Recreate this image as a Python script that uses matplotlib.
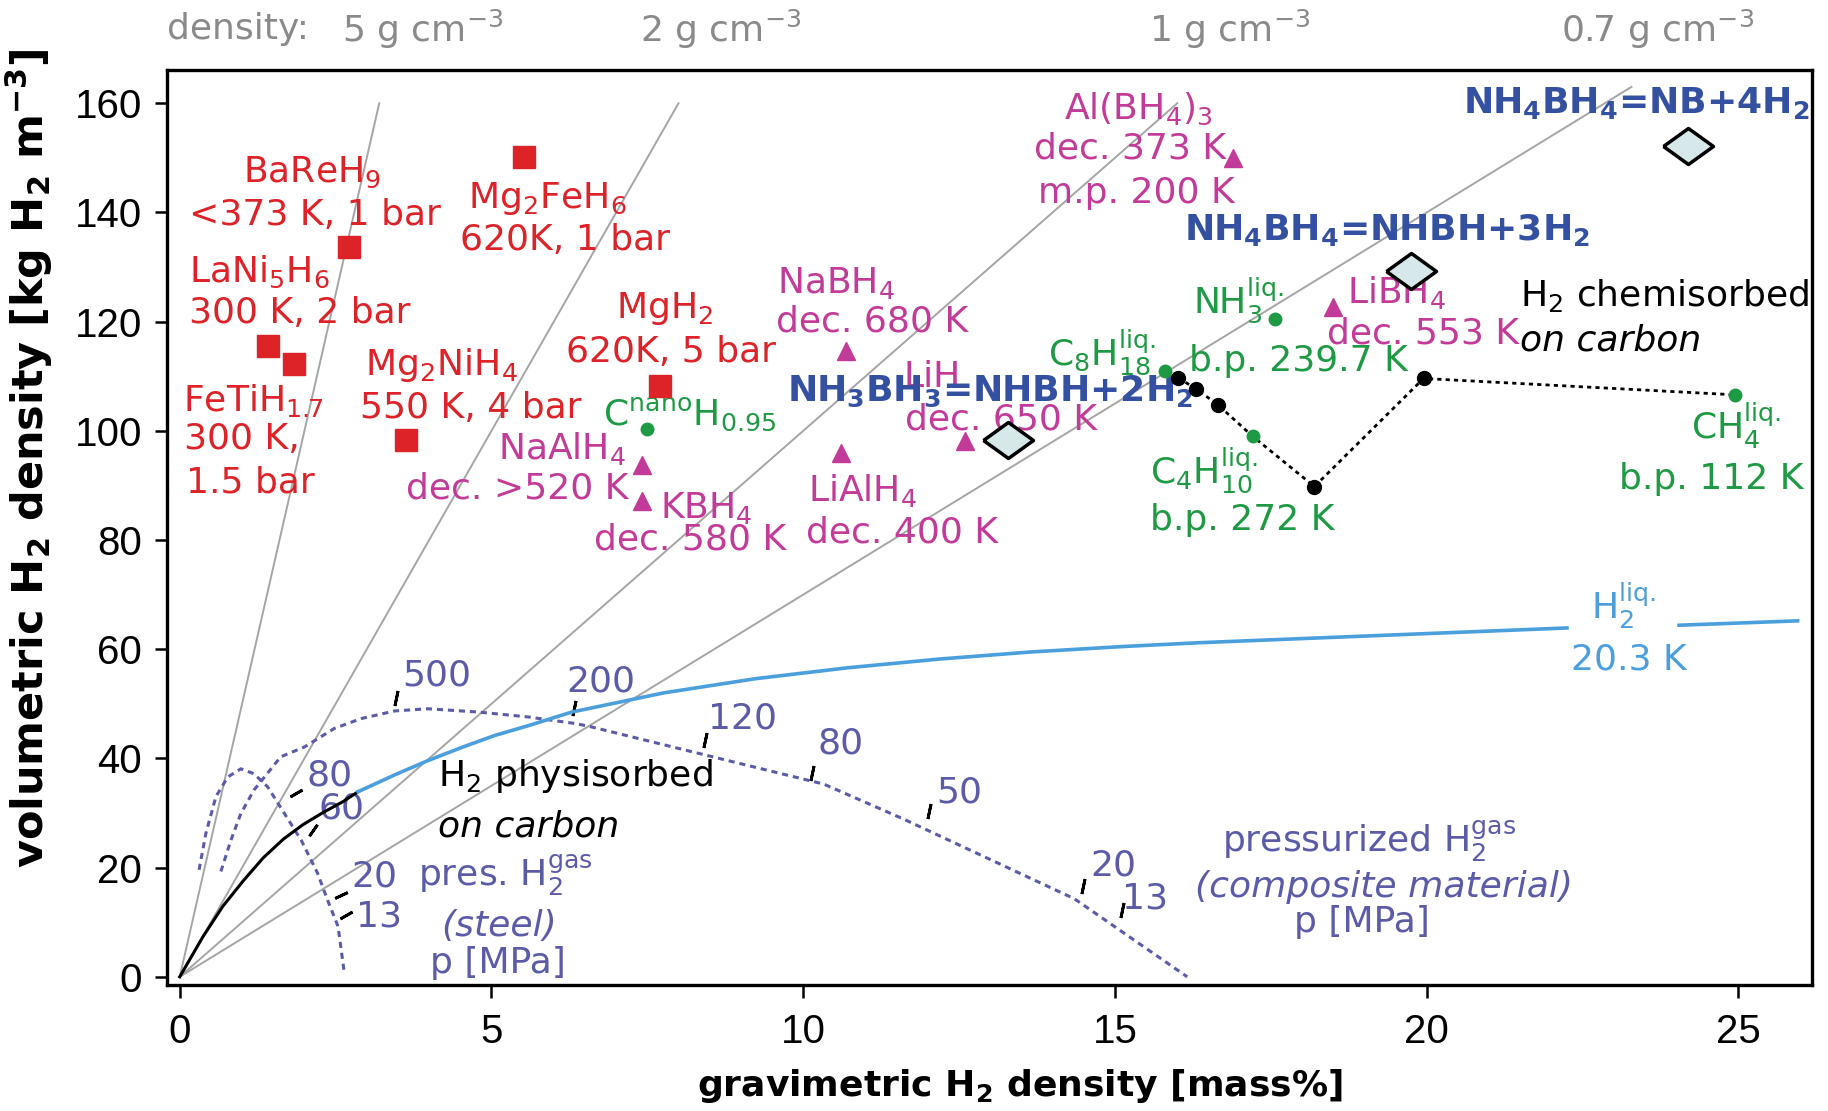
import matplotlib
matplotlib.use("Agg")
import matplotlib.pyplot as plt

plt.rcParams["font.family"] = ["DejaVu Sans"]
plt.rcParams["mathtext.default"] = "regular"

RED = "#dd2228"
MAG = "#c23b98"
GREEN = "#1f9a44"
BLUE = "#3450a0"
PRES = "#5b5ba8"
LIQ = "#4a9fdc"
GRAY = "#a5a5a5"
FS = 26

# density guide lines (g cm^-3) and the volumetric value where each stops
rho = [5, 2, 1, 0.7]
rho_top = [160, 160, 160, 163]
rho_label = ["5 g cm$^{-3}$", "2 g cm$^{-3}$", "1 g cm$^{-3}$", "0.7 g cm$^{-3}$"]
rho_label_x = [3.9, 8.67, 16.84, 23.7]

# metal hydrides: Mg2FeH6, BaReH9, LaNi5H6, FeTiH1.7, Mg2NiH4, MgH2
metal_x = [5.52, 2.71, 1.41, 1.84, 3.63, 7.71]
metal_y = [150.2, 133.7, 115.6, 112.3, 98.3, 108.2]

# complex hydrides: NaBH4, LiAlH4, NaAlH4, KBH4, LiH, Al(BH4)3, LiBH4
complex_x = [10.68, 10.61, 7.41, 7.42, 12.59, 16.9, 18.5]
complex_y = [114.7, 96.0, 93.7, 87.2, 98.1, 150.0, 122.7]

# liquids / nano carbon: C(nano)H0.95, NH3, C8H18, C4H10, CH4
liquid_x = [7.50, 17.57, 15.80, 17.21, 24.95]
liquid_y = [100.3, 120.4, 111.0, 99.0, 106.6]

# H2 chemisorbed on carbon
chem_x = [16.02, 16.30, 16.65, 17.21, 18.2, 19.95, 24.95]
chem_y = [109.7, 107.7, 104.8, 99.0, 89.8, 109.6, 106.6]
chem_dot = [True, True, True, False, True, True, False]

# ammonia borane / ammonium borohydride
ab_x = [13.28, 19.75, 24.2]
ab_y = [98.4, 129.2, 152.1]

# H2 physisorbed on carbon
phys_x = [0.0, 0.37, 0.69, 1.02, 1.34, 1.66, 1.98, 2.3, 2.62, 2.86]
phys_y = [0.0, 7.3, 12.9, 17.6, 21.8, 25.2, 27.9, 30.1, 32.1, 33.9]

# liquid hydrogen (incl. container), gap left for its label
liq_x = [2.86, 3.45, 3.98, 4.52, 5.05, 5.59, 6.29, 7.76, 9.23, 10.71, 12.18, 13.65,
         15.13, 16.36, 22.25]
liq_y = [33.9, 37.0, 39.6, 42.0, 44.2, 46.0, 48.5, 52.0, 54.6, 56.6, 58.2, 59.5,
         60.5, 61.2, 63.9]
liq2_x = [24.05, 25.95]
liq2_y = [64.4, 65.2]

# pressurized gas, steel cylinder
steel_x = [0.31, 0.42, 0.58, 0.77, 0.98, 1.19, 1.41, 1.68, 1.95, 2.21, 2.37, 2.54, 2.64]
steel_y = [19.6, 26.3, 33.0, 36.6, 38.1, 37.2, 34.8, 29.9, 25.0, 19.0, 14.1, 9.2, 0.7]
steel_p = ["80", "60", "20", "13"]
steel_tick_x = [1.87, 2.14, 2.59, 2.66]
steel_tick_y = [33.6, 26.9, 15.0, 11.3]
steel_tick_ang = [-60, -35, -65, -60]
steel_lab_x = [2.4, 2.59, 3.12, 3.2]
steel_lab_y = [37.5, 31.4, 19.0, 11.6]

# pressurized gas, composite cylinder
comp_x = [0.66, 0.82, 0.98, 1.19, 1.62, 2.0, 2.48, 2.91, 3.45, 3.98, 4.79, 5.59,
          6.34, 6.56, 8.44, 10.33, 11.59, 14.35, 16.16]
comp_y = [19.3, 25.0, 29.9, 34.2, 40.3, 42.1, 45.5, 47.3, 48.7, 49.1, 48.5, 47.6,
          46.4, 45.9, 40.6, 35.3, 29.0, 14.3, 0.0]
comp_p = ["500", "200", "120", "80", "50", "20", "13"]
comp_tick_x = [3.47, 6.32, 8.42, 10.14, 12.02, 14.49, 15.11]
comp_tick_y = [51.0, 49.2, 43.3, 37.3, 30.3, 16.7, 12.2]
comp_lab_x = [4.12, 6.75, 9.03, 10.6, 12.5, 14.97, 15.49]
comp_lab_y = [55.8, 54.6, 47.9, 43.3, 34.3, 21.0, 15.0]

fig = plt.figure(figsize=(18.28, 11.11), dpi=100)
ax = fig.add_axes([0.0915, 0.1134, 0.8997, 0.8236])
ax.set_xlim(-0.2, 26.18)
ax.set_ylim(-1.5, 166.1)


def lab(x, y, s, color, ha="center", **kw):
    # y is the visual middle of the capitals
    ax.text(x, y - 2.4, s, color=color, ha=ha, va="baseline", fontsize=FS, **kw)


for r, top in zip(rho, rho_top):
    ax.plot([0, top / (10 * r)], [0, top], color=GRAY, lw=1.4, zorder=1)
for s, x in zip(rho_label, rho_label_x):
    ax.text(x, 173.6, s, color="#8a8a8a", ha="center", va="center", fontsize=FS, clip_on=False)
ax.text(0.93, 173.6, "density:", color="#8a8a8a", ha="center", va="center", fontsize=FS, clip_on=False)

ax.plot(steel_x, steel_y, color=PRES, lw=2.2, ls=(0, (2, 1.6)), zorder=2)
ax.plot(comp_x, comp_y, color=PRES, lw=2.2, ls=(0, (2, 1.6)), zorder=2)
for x, y, a in zip(steel_tick_x, steel_tick_y, steel_tick_ang):
    ax.plot(x, y, ls="none", marker=(2, 2, a), ms=10, mew=2, mec="black", zorder=3)
ax.plot(comp_tick_x, comp_tick_y, ls="none", marker=(2, 2, -12), ms=11, mew=2, mec="black", zorder=3)
for p, x, y in zip(steel_p, steel_lab_x, steel_lab_y):
    lab(x, y, p, PRES)
for p, x, y in zip(comp_p, comp_lab_x, comp_lab_y):
    lab(x, y, p, PRES)

ax.plot(phys_x, phys_y, color="black", lw=2.2, zorder=3)
ax.plot(liq_x, liq_y, color=LIQ, lw=2.6, zorder=3)
ax.plot(liq2_x, liq2_y, color=LIQ, lw=2.6, zorder=3)

ax.plot(chem_x, chem_y, color="black", lw=2, ls=(0, (1.5, 1.5)), zorder=3)
ax.plot([x for x, d in zip(chem_x, chem_dot) if d], [y for y, d in zip(chem_y, chem_dot) if d],
        ls="none", marker="o", ms=10, color="black", zorder=4)

ax.plot(metal_x, metal_y, ls="none", marker="s", ms=16, color=RED, zorder=4)
ax.plot(complex_x, complex_y, ls="none", marker="^", ms=13, color=MAG, zorder=4)
ax.plot(liquid_x, liquid_y, ls="none", marker="o", ms=9, color=GREEN, zorder=4)
diamond = [(-1, 0), (0, 0.72), (1, 0), (0, -0.72), (-1, 0)]
ax.plot(ab_x, ab_y, ls="none", marker=diamond, ms=36, mfc="#d6e8ea", mec="black", mew=2.5, zorder=4)

# metal hydride labels
lab(2.12, 147.9, "BaReH$_9$", RED)
lab(2.17, 140.1, "<373 K, 1 bar", RED)
lab(1.27, 129.6, "LaNi$_5$H$_6$", RED)
lab(1.93, 122.1, "300 K, 2 bar", RED)
lab(1.18, 106.1, "FeTiH$_{1.7}$", RED)
lab(0.99, 99.0, "300 K,", RED)
lab(1.13, 91.1, "1.5 bar", RED)
lab(5.9, 143.3, "Mg$_2$FeH$_6$", RED)
lab(6.18, 135.5, "620K, 1 bar", RED)
lab(7.78, 123.1, "MgH$_2$", RED)
lab(7.88, 115.0, "620K, 5 bar", RED)
lab(4.2, 112.7, "Mg$_2$NiH$_4$", RED)
lab(4.67, 104.8, "550 K, 4 bar", RED)

# complex hydride labels
lab(10.52, 127.7, "NaBH$_4$", MAG)
lab(11.1, 120.6, "dec. 680 K", MAG)
lab(6.13, 97.3, "NaAlH$_4$", MAG)
lab(5.42, 90.1, "dec. >520 K", MAG)
lab(8.44, 86.5, "KBH$_4$", MAG)
lab(8.19, 80.6, "dec. 580 K", MAG)
lab(10.95, 89.6, "LiAlH$_4$", MAG)
lab(11.59, 82.0, "dec. 400 K", MAG)
lab(12.07, 110.4, "LiH", MAG)
lab(13.17, 102.7, "dec. 650 K", MAG)
lab(15.37, 159.5, "Al(BH$_4$)$_3$", MAG)
lab(15.25, 152.3, "dec. 373 K", MAG)
lab(15.34, 144.1, "m.p. 200 K", MAG)
lab(18.72, 125.8, "LiBH$_4$", MAG, ha="left")
lab(18.4, 118.4, "dec. 553 K", MAG, ha="left")

# liquids
lab(6.79, 103.5, "C$^{nano}$H$_{0.95}$", GREEN, ha="left")
lab(16.25, 123.9, "NH$_3^{liq.}$", GREEN, ha="left")
lab(16.19, 113.3, "b.p. 239.7 K", GREEN, ha="left")
lab(13.92, 114.3, "C$_8$H$_{18}^{liq.}$", GREEN, ha="left")
lab(15.56, 92.7, "C$_4$H$_{10}^{liq.}$", GREEN, ha="left")
lab(15.56, 84.2, "b.p. 272 K", GREEN, ha="left")
lab(24.96, 100.9, "CH$_4^{liq.}$", GREEN)
lab(24.57, 91.8, "b.p. 112 K", GREEN)

# carbon
lab(21.49, 125.2, "H$_2$ chemisorbed", "black", ha="left")
lab(21.5, 117.2, "on carbon", "black", ha="left", style="italic")
lab(4.14, 37.3, "H$_2$ physisorbed", "black", ha="left")
lab(4.14, 28.1, "on carbon", "black", ha="left", style="italic")

# pressurized gas
lab(3.82, 19.0, "pres. H$_2^{gas}$", PRES, ha="left")
lab(5.13, 9.8, "(steel)", PRES, style="italic")
lab(5.1, 3.1, "p [MPa]", PRES)
lab(19.07, 25.3, "pressurized H$_2^{gas}$", PRES)
lab(19.31, 17.0, "(composite material)", PRES, style="italic")
lab(18.96, 10.6, "p [MPa]", PRES)

lab(23.15, 67.9, "H$_2^{liq.}$", LIQ)
lab(23.25, 58.6, "20.3 K", LIQ)

lab(9.74, 107.8, "NH$_3$BH$_3$=NHBH+2H$_2$", BLUE, ha="left", weight="bold")
lab(19.36, 137.4, "NH$_4$BH$_4$=NHBH+3H$_2$", BLUE, weight="bold")
lab(26.14, 160.6, "NH$_4$BH$_4$=NB+4H$_2$", BLUE, ha="right", weight="bold")

ax.set_xticks([0, 5, 10, 15, 20, 25])
ax.set_yticks([0, 20, 40, 60, 80, 100, 120, 140, 160])
ax.tick_params(direction="out", length=9, width=1.8, labelsize=29, pad=9)
ax.tick_params(axis="x", pad=11)
for t in ax.get_xticklabels() + ax.get_yticklabels():
    t.set_family(["Liberation Sans", "DejaVu Sans"])
for sp in ax.spines.values():
    sp.set_linewidth(2.4)
ax.set_xlabel("gravimetric H$_2$ density [mass%]", fontsize=FS, weight="bold")
ax.set_ylabel("volumetric H$_2$ density [kg H$_2$ m$^{-3}$]", fontsize=31, weight="bold")
ax.xaxis.set_label_coords(0.5185, -0.09)
ax.yaxis.set_label_coords(-0.068, 0.576)

fig.savefig("out.png", dpi=100)
